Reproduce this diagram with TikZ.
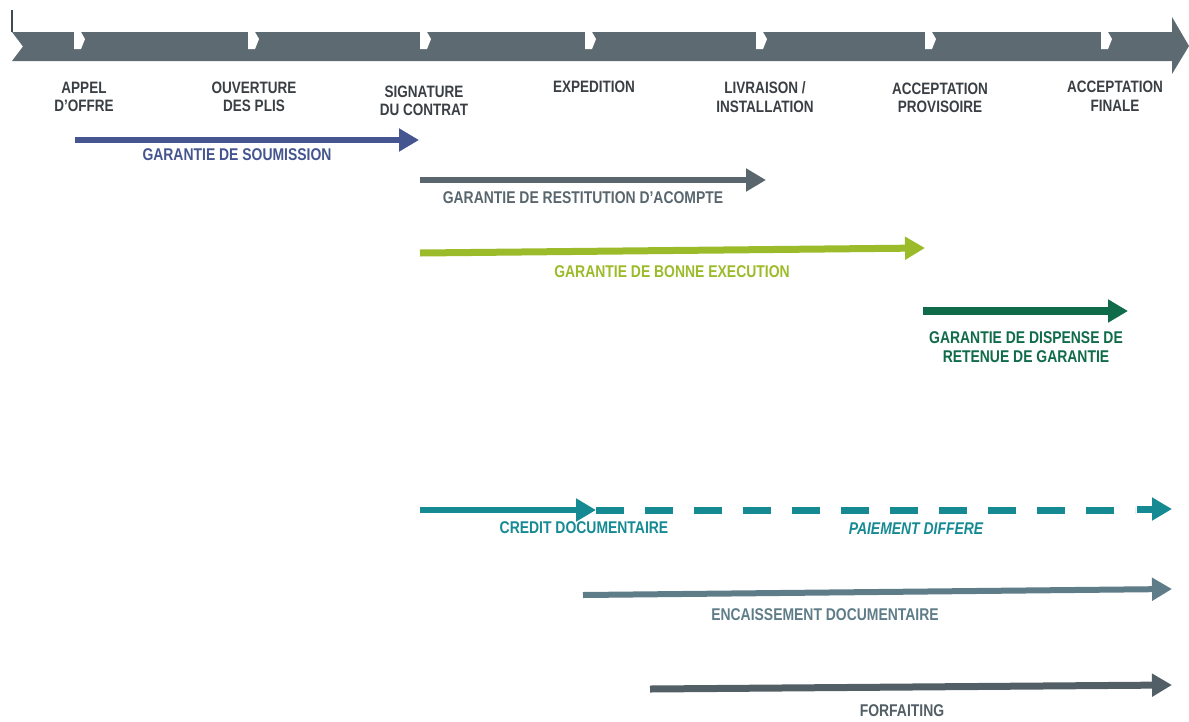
\documentclass[tikz,border=0pt]{standalone}
\usepackage{fontspec}
\setmainfont{Liberation Sans}[FakeStretch=0.82]
\usetikzlibrary{arrows.meta}
\definecolor{band}{HTML}{5D6A72}
\definecolor{cblue}{HTML}{44558F}
\definecolor{cgray}{HTML}{5A666E}
\definecolor{cgreen}{HTML}{9BBB2A}
\definecolor{cdgreen}{HTML}{106B4A}
\definecolor{cteal}{HTML}{168A93}
\definecolor{cslate}{HTML}{5F7D88}
\definecolor{cdark}{HTML}{535F66}
\definecolor{ctext}{HTML}{3A3F44}
\tikzset{
  stage/.style={font=\bfseries\fontsize{16.5}{18.5}\selectfont, text=ctext, align=center, inner sep=0pt},
  lab/.style={font=\bfseries\fontsize{17}{18.5}\selectfont, align=center, inner sep=0pt},
  arr/.style={line width=#1, -{Triangle[length=20pt,width=22pt]}},
  sep/.style={fill=white, draw=none},
}
\begin{document}
\begin{tikzpicture}[x=1pt,y=-1pt]
\useasboundingbox (0,0) rectangle (1189,721);
% timeline band
\fill[band] (12,32) -- (1172,32) -- (1172,17) -- (1189,46) -- (1172,74) -- (1172,61) -- (12,61) -- (23,46.5) -- cycle;
\draw[band!70!black, line width=1.5pt] (12,10) -- (12,32);
\foreach \a in {74,248,420,585,756,925,1101}{
  \fill[sep] (\a,32) -- (\a+7,32) -- (\a+11,39) -- (\a+7,49) -- (\a,49) -- cycle;
}
% stage labels
\node[stage] (appel) at (84,97) {APPEL\\D'OFFRE};
\node[stage] (ouv) at (254,97) {OUVERTURE\\DES PLIS};
\node[stage] (sig) at (424,101) {SIGNATURE\\DU CONTRAT};
\node[stage] (exp) at (594,87) {EXPEDITION};
\node[stage] (liv) at (765,97) {LIVRAISON /\\INSTALLATION};
\node[stage] (accp) at (940,98) {ACCEPTATION\\PROVISOIRE};
\node[stage] (accf) at (1115,96) {ACCEPTATION\\FINALE};
% guarantee arrows
\coordinate (a1) at (75,140); \coordinate (b1) at (419,140);
\draw[cblue, arr=5.5pt] (a1) -- (b1);
\node[lab, text=cblue] (l1) at (237,155) {GARANTIE DE SOUMISSION};

\coordinate (a2) at (420,180); \coordinate (b2) at (766,180);
\draw[cgray, arr=6pt] (a2) -- (b2);
\node[lab, text=cgray] (l2) at (583,198) {GARANTIE DE RESTITUTION D'ACOMPTE};

\coordinate (a3) at (420,253); \coordinate (b3) at (925,248);
\draw[cgreen, arr=7pt] (a3) -- (b3);
\node[lab, text=cgreen] (l3) at (672,272) {GARANTIE DE BONNE EXECUTION};

\coordinate (a4) at (923,311); \coordinate (b4) at (1128,311);
\draw[cdgreen, arr=8pt] (a4) -- (b4);
\node[lab, text=cdgreen] (l4) at (1026,347) {GARANTIE DE DISPENSE DE\\RETENUE DE GARANTIE};

% payment arrows
\coordinate (a5) at (420,510); \coordinate (b5) at (596,510);
\coordinate (c5) at (1135,510); \coordinate (d5) at (1137,509); \coordinate (e5) at (1172,509);
\draw[cteal, arr=6pt] (a5) -- (b5);
\draw[cteal, line width=7pt, dash pattern=on 28pt off 21pt] (b5) -- (c5);
\draw[cteal, arr=7pt] (d5) -- (e5);
\node[lab, text=cteal] (l5) at (584,528) {CREDIT DOCUMENTAIRE};
\node[lab, text=cteal, font=\bfseries\itshape\fontsize{17}{18.5}\selectfont] (l6) at (916,529) {PAIEMENT DIFFERE};

\coordinate (a7) at (583,595); \coordinate (b7) at (1172,589);
\draw[cslate, arr=6pt] (a7) -- (b7);
\node[lab, text=cslate] (l7) at (825,615) {ENCAISSEMENT DOCUMENTAIRE};

\coordinate (a8) at (650,689); \coordinate (b8) at (1172,685);
\draw[cdark, arr=7pt] (a8) -- (b8);
\node[lab, text=cdark] (l8) at (902,711) {FORFAITING};
\end{tikzpicture}
\end{document}
